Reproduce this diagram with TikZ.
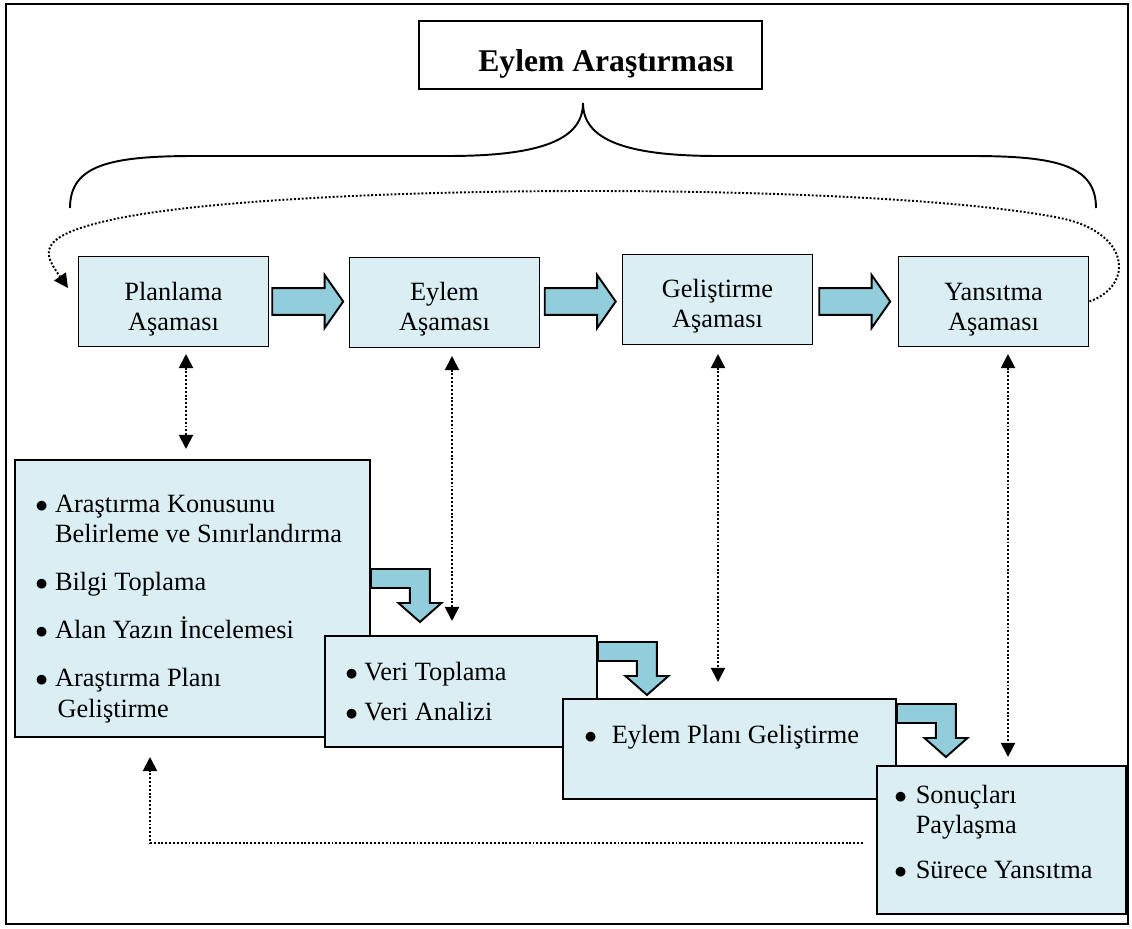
\documentclass[tikz,border=0pt]{standalone}
\usepackage{fontspec}
\setmainfont{Liberation Serif}
\usetikzlibrary{arrows.meta,shapes.arrows}
\definecolor{boxblue}{HTML}{DAEEF3}
\definecolor{arrowblue}{HTML}{92CDDC}

\begin{document}
\begin{tikzpicture}[x=0.02cm, y=-0.02cm,
    phase/.style ={draw, line width=1.1pt, fill=boxblue, minimum width=3.8cm, minimum height=1.8cm, inner sep=0},
    stage/.style ={draw, line width=1.1pt, fill=boxblue, inner sep=0},
    txt/.style ={inner sep=0, font=\fontsize{15}{17.6}\selectfont},
    flow/.style ={single arrow, draw, line width=1.1pt, fill=arrowblue, inner xsep=0, inner ysep=0.25cm,
      minimum height=1.42cm, minimum width=1.02cm, single arrow head extend=0.26cm,
      single arrow tip angle=110},
    bent/.style ={draw, line width=1.1pt, fill=arrowblue, line join=miter},
    dotlink/.style ={line width=1.1pt, dash pattern=on 1.1pt off 1.1pt,
      -{Triangle[length=8pt,width=8pt]}},
    dotboth/.style ={dotlink, {Triangle[length=8pt,width=8pt]}-{Triangle[length=8pt,width=8pt]}}]
   \useasboundingbox (0,0) rectangle (1132,929);
   \draw[line width=1.6pt] (6,4) rectangle (1128,924);

   \node[draw, line width=1.1pt, minimum width=6.86cm, minimum height=1.36cm] (title) at (590.5,55) {};
   \node[inner sep=0, font=\fontsize{18}{21.6}\selectfont\bfseries, anchor=base west] (titletxt) at (478,72) {Eylem Araştırması};

   \draw[line width=1.1pt] (70,208) .. controls (70,165) and (110,156) .. (195,156) -- (448,156)
     .. controls (540,156) and (583,140) .. (583,103)
     .. controls (583,140) and (626,156) .. (718,156) -- (971,156)
     .. controls (1056,156) and (1096,165) .. (1096,208);

   \node[phase] (plan) at (173.5,301.5) {};
   \node[phase] (eylem) at (444.5,302.5) {};
   \node[phase] (gelis) at (717.5,299.5) {};
   \node[phase] (yans) at (993.5,301.5) {};
   \node[txt, anchor=base] (plantxt) at (173.5,300) {\begin{tabular}[t]{@{}c@{}}Planlama\\Aşaması\end{tabular}};
   \node[txt, anchor=base] (eylemtxt) at (444.5,300) {\begin{tabular}[t]{@{}c@{}}Eylem\\Aşaması\end{tabular}};
   \node[txt, anchor=base] (gelistxt) at (717.5,297) {\begin{tabular}[t]{@{}c@{}}Geliştirme\\Aşaması\end{tabular}};
   \node[txt, anchor=base] (yanstxt) at (993.5,300) {\begin{tabular}[t]{@{}c@{}}Yansıtma\\Aşaması\end{tabular}};

   \node[flow] (f1) at (303,301.5) {};
   \node[flow] (f2) at (575.5,301.5) {};
   \node[flow] (f3) at (850,301.5) {};

   \coordinate (arcend) at (68,288);
   \draw[dotlink] (yans.east) .. controls (1135,285) and (1130,232) .. (1060,218)
     .. controls (880,182) and (300,182) .. (120,218)
     .. controls (30,236) and (45,255) .. (arcend);

   \coordinate (p1) at (186,354);
   \coordinate (q1) at (186,449);
   \coordinate (p2) at (452,356);
   \coordinate (q2) at (452,621);
   \coordinate (p3) at (718,354);
   \coordinate (q3) at (718,682);
   \coordinate (p4) at (1008,354);
   \coordinate (q4) at (1008,757);
   \draw[dotboth] (p1) -- (q1);
   \draw[dotboth] (p2) -- (q2);
   \draw[dotboth] (p3) -- (q3);
   \draw[dotboth] (p4) -- (q4);

   \node[stage, minimum width=7.1cm, minimum height=5.54cm] (konu) at (192.5,598.5) {};
   \node[txt, anchor=base west] (konutxt) at (35,512) {\begin{tabular}[t]{@{}l@{\hspace{4pt}}l@{}}
     $\bullet$ & Araştırma Konusunu\\
      & Belirleme ve Sınırlandırma\\[9.6pt]
     $\bullet$ & Bilgi Toplama\\[9.6pt]
     $\bullet$ & Alan Yazın İncelemesi\\[9.6pt]
     $\bullet$ & Araştırma Planı\\
      & \hspace{1.5pt}Geliştirme
   \end{tabular}};
   \draw[bent] (konu.east |- 0,569) -- ++(59,0) -- ++(0,34) -- ++(11.5,0) -- ++(-21.5,19)
     -- ++(-21.5,-19) -- ++(11.5,0) -- ++(0,-15) -- ++(-39,0) -- cycle;

   \node[stage, minimum width=5.44cm, minimum height=2.22cm] (veri) at (461,691.5) {};
   \node[txt, anchor=base west] (veritxt) at (345,680) {\begin{tabular}[t]{@{}l@{\hspace{3.6pt}}l@{}}
     $\bullet$ & Veri Toplama\\[5.6pt]
     $\bullet$ & Veri Analizi
   \end{tabular}};
   \draw[bent] (veri.east |- 0,642) -- ++(59,0) -- ++(0,34) -- ++(11.5,0) -- ++(-21.5,19)
     -- ++(-21.5,-19) -- ++(11.5,0) -- ++(0,-15) -- ++(-39,0) -- cycle;

   \node[stage, minimum width=6.66cm, minimum height=2cm] (eplan) at (729.5,749) {};
   \node[txt, anchor=base west] (eplantxt) at (584,743) {$\bullet$\hspace{8.4pt}Eylem Planı Geliştirme};
   \draw[bent] (eplan.east |- 0,704) -- ++(59,0) -- ++(0,34) -- ++(11.5,0) -- ++(-21.5,19)
     -- ++(-21.5,-19) -- ++(11.5,0) -- ++(0,-15) -- ++(-39,0) -- cycle;

   \node[stage, minimum width=4.98cm, minimum height=2.96cm] (sonuc) at (1001.5,840) {};
   \node[txt, anchor=base west] (sonuctxt) at (894,803) {\begin{tabular}[t]{@{}l@{\hspace{5pt}}l@{}}
     $\bullet$ & Sonuçları\\
      & Paylaşma\\[8pt]
     $\bullet$ & Sürece Yansıtma
   \end{tabular}};

   \coordinate (fbstart) at (863,843);
   \coordinate (fbend) at (150,757);
   \draw[dotlink] (fbstart) -| (fbend);
 \end{tikzpicture}
\end{document}
